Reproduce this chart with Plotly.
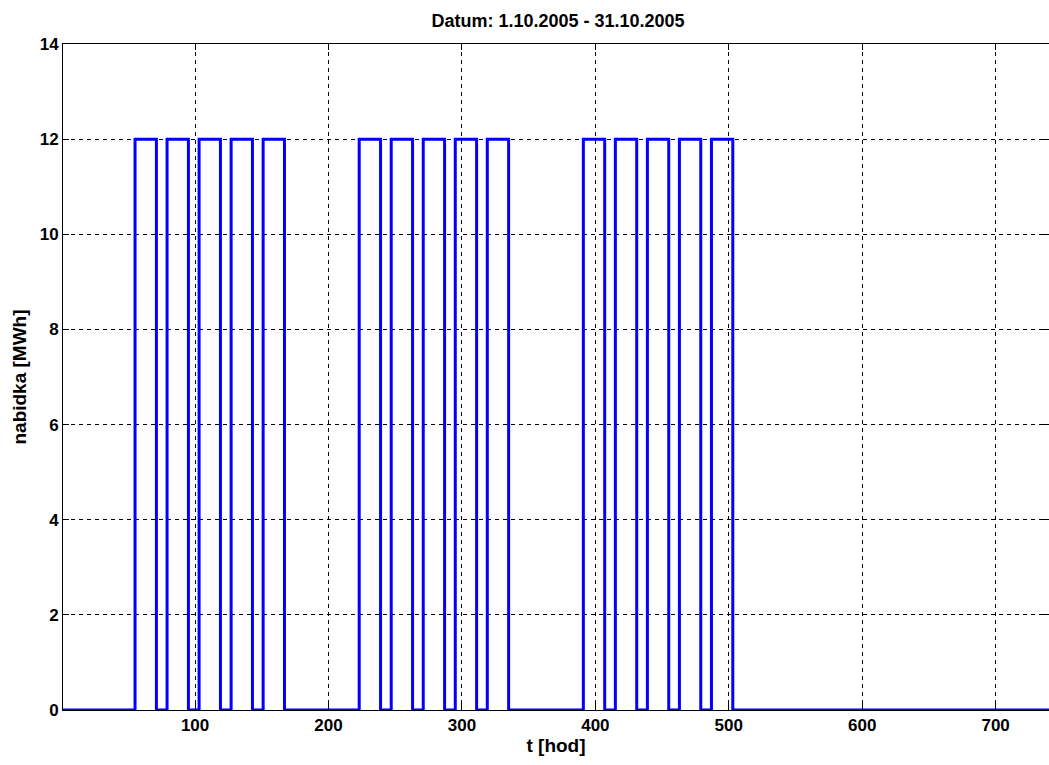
import plotly.graph_objects as go

# Offer blocks (hour of month): supply switched on at start, off at end
block_start = [55, 79, 103, 127, 151,
               223, 247, 271, 295, 319,
               391, 415, 439, 463, 487]
block_end = [71, 95, 119, 143, 167,
             239, 263, 287, 311, 335,
             407, 431, 455, 479, 503]
block_level = [12] * 15

t_first, t_last = 1, 744

# Step trace through the block edges
xs, ys = [t_first], [0]
for s, e, v in zip(block_start, block_end, block_level):
    xs += [s, e]
    ys += [v, 0]
xs.append(t_last)
ys.append(0)

x_ticks = [100, 200, 300, 400, 500, 600, 700]
y_ticks = [0, 2, 4, 6, 8, 10, 12, 14]

FONT = "Liberation Sans, Arial, sans-serif"

fig = go.Figure()
fig.add_trace(go.Scatter(
    x=xs, y=ys, mode="lines", line_shape="hv",
    line=dict(color="#0000ff", width=3),
    cliponaxis=False, hoverinfo="skip", showlegend=False,
))

axis_common = dict(
    showline=True, linecolor="black", linewidth=1, mirror="ticks",
    ticks="inside", ticklen=6, tickcolor="black",
    showgrid=True, gridcolor="black", gridwidth=1, griddash="4px,4px",
    zeroline=False, layer="below traces",
    tickfont=dict(family=FONT, size=17, color="black", weight="bold"),
)

fig.update_layout(
    width=1049, height=765,
    margin=dict(l=63, r=0, t=44, b=55),
    paper_bgcolor="white", plot_bgcolor="white",
    title=dict(text="Datum: 1.10.2005 - 31.10.2005", x=0.532, xanchor="center",
               y=0.973, yanchor="middle",
               font=dict(family=FONT, size=18, color="black", weight="bold")),
    xaxis=dict(range=[t_first, 740], tickvals=x_ticks,
               title=dict(text="t [hod]", standoff=2,
                          font=dict(family=FONT, size=19, color="black", weight="bold")),
               **axis_common),
    yaxis=dict(range=[0, 14], tickvals=y_ticks,
               title=dict(text="nabidka [MWh]", standoff=8,
                          font=dict(family=FONT, size=19, color="black", weight="bold")),
               **axis_common),
)

fig.write_html("out.html")
